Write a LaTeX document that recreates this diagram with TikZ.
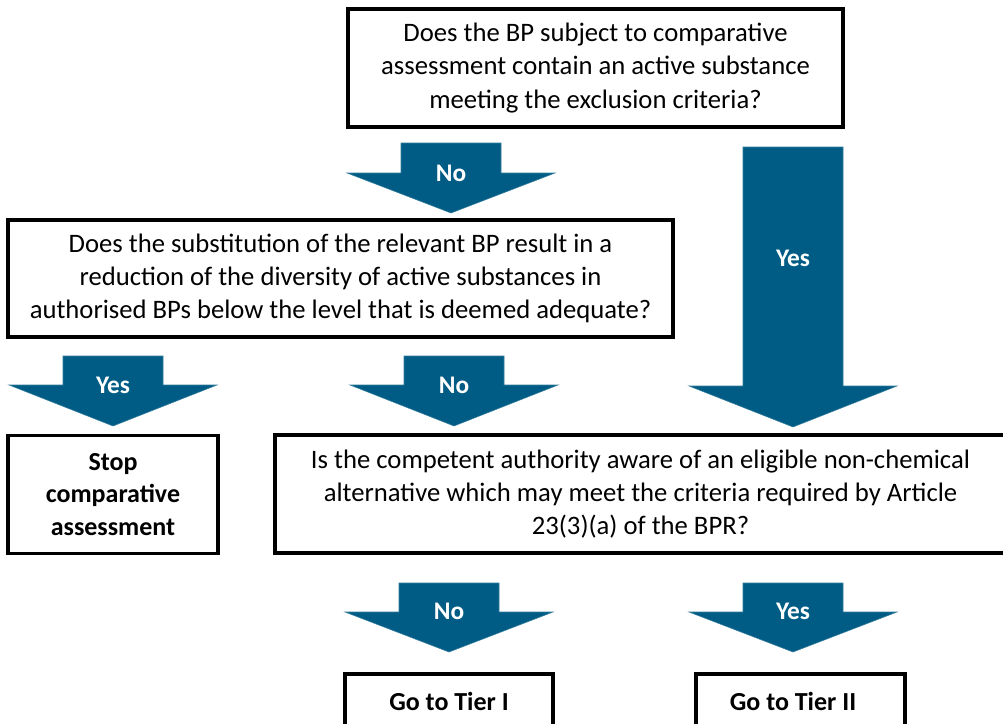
\documentclass[tikz,border=0pt]{standalone}
\usepackage{fontspec}
\setmainfont{Carlito}
\usepackage{tikz}

\definecolor{arrowblue}{RGB}{0,92,132}

% block arrow pointing down: centre x, shaft top, head top, tip, name, label, label y
\newcommand{\flowarrow}[7]{%
  \fill[arrowblue, draw=arrowblue!80!white, line width=0.4pt]
    (#1-50,#2) -- (#1+50,#2) -- (#1+50,#3) -- (#1+104,#3) -- (#1,#4)
    -- (#1-104,#3) -- (#1-50,#3) -- cycle;
  \node[answer] (#5) at (#1,#7) {#6};
}

\begin{document}
\begin{tikzpicture}[x=0.75pt, y=-0.75pt,
    question/.style={draw, line width=2.6pt, align=center, font=\fontsize{20}{24.8}\selectfont,
      inner sep=0pt},
    result/.style={question, font=\fontsize{19.5}{24.2}\selectfont\bfseries},
    answer/.style={text=white, font=\fontsize{19}{22}\selectfont\bfseries, inner sep=0pt}]
  \useasboundingbox (0,0) rectangle (1003,724);
  \clip (0,0) rectangle (1003,724);

  % Questions
  \node[question, minimum width=495*0.75pt, minimum height=118*0.75pt] (q1) at (595.5,68)
    {Does the BP subject to comparative\\assessment contain an active substance\\meeting the exclusion criteria?};
  \node[question, minimum width=665*0.75pt, minimum height=117*0.75pt] (q2) at (340.5,278.5)
    {Does the substitution of the relevant BP result in a\\reduction of the diversity of active substances in\\authorised BPs below the level that is deemed adequate?};
  \node[question, minimum width=731*0.75pt, minimum height=118*0.75pt] (q3) at (640.5,494)
    {Is the competent authority aware of an eligible non-chemical\\alternative which may meet the criteria required by Article\\23(3)(a) of the BPR?};

  % Outcomes
  \node[result, minimum width=210*0.75pt, minimum height=118*0.75pt] (stop) at (113,494.5)
    {Stop\\comparative\\assessment};
  \node[result, minimum width=208*0.75pt, minimum height=60*0.75pt] (tier1) at (449,704) {};
  \node[result, minimum width=209*0.75pt, minimum height=60*0.75pt] (tier2) at (800.5,704) {};
  \node[font=\fontsize{19.5}{24.2}\selectfont\bfseries] (tier1-txt) at (449,701) {Go to Tier I};
  \node[font=\fontsize{19.5}{24.2}\selectfont\bfseries] (tier2-txt) at (793,701) {Go to Tier II};

  % Arrows
  \flowarrow{451}{143}{173}{213}{a1}{No}{173}
  \flowarrow{793}{147}{386}{427}{a2}{Yes}{258}
  \flowarrow{113}{356}{385}{426}{a3}{Yes}{385}
  \flowarrow{454}{356}{385}{426}{a4}{No}{385}
  \flowarrow{449}{583}{612}{652}{a5}{No}{611}
  \flowarrow{793}{583}{612}{652}{a6}{Yes}{611}
\end{tikzpicture}
\end{document}
